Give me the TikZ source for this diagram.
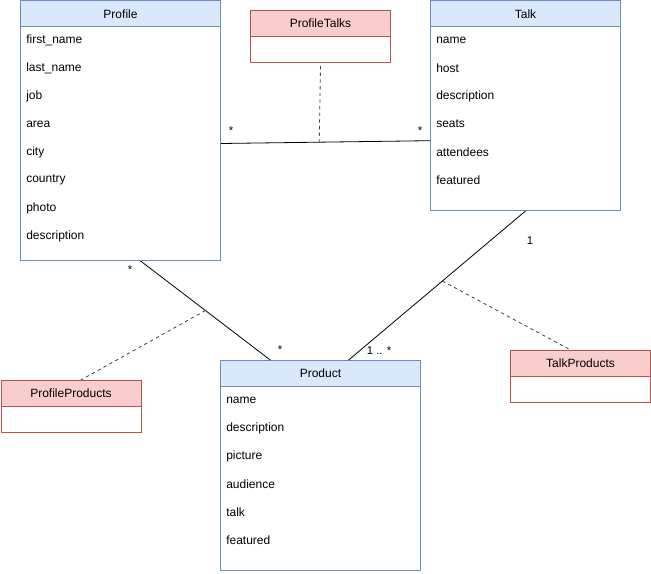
\documentclass[tikz,border=0pt]{standalone}
\usepackage{fontspec}
\setmainfont{Liberation Sans}
\usetikzlibrary{calc}
\definecolor{bfill}{HTML}{DAE8FC}
\definecolor{bline}{HTML}{6C8EBF}
\definecolor{rfill}{HTML}{F8CECC}
\definecolor{rline}{HTML}{B85450}
\begin{document}
\begin{tikzpicture}[x=0.75pt,y=-0.75pt,
  every node/.style={font=\fontsize{9}{11}\selectfont, inner sep=0pt},
  bhead/.style={draw=bline, fill=bfill, line width=0.75pt, anchor=north west, minimum height=19.5pt},
  bbody/.style={draw=bline, fill=white, line width=0.75pt, anchor=north west},
  rhead/.style={draw=rline, fill=rfill, line width=0.75pt, anchor=north west, minimum height=19.5pt, minimum width=105pt},
  rbody/.style={draw=rline, fill=white, line width=0.75pt, anchor=north west, minimum height=19.5pt, minimum width=105pt},
  attr/.style={anchor=west},
  assoc/.style={draw=black, line width=0.6pt},
  dashline/.style={draw=black!75, line width=0.6pt, dash pattern=on 2.5pt off 2.5pt},
  mult/.style={font=\fontsize{8.5}{10}\selectfont}]
\useasboundingbox (0,0) rectangle (651,574);
% Profile
\node[bbody, minimum width=150pt, minimum height=175.5pt] (profile) at (20,26) {};
\node[bhead, minimum width=150pt] (profileh) at (20,0.5) {Profile};
\node[attr] (p1) at (26,40) {first\_name};
\node[attr] (p2) at (26,68) {last\_name};
\node[attr] (p3) at (26,96) {job};
\node[attr] (p4) at (26,124) {area};
\node[attr] (p5) at (26,152) {city};
\node[attr] (p6) at (26,180) {country};
\node[attr] (p7) at (26,208) {photo};
\node[attr] (p8) at (26,236) {description};
% Talk
\node[bbody, minimum width=142.5pt, minimum height=138pt] (talk) at (430,26) {};
\node[bhead, minimum width=142.5pt] (talkh) at (430,0.5) {Talk};
\node[attr] (t1) at (436,40) {name};
\node[attr] (t2) at (436,68) {host};
\node[attr] (t3) at (436,96) {description};
\node[attr] (t4) at (436,124) {seats};
\node[attr] (t5) at (436,152) {attendees};
\node[attr] (t6) at (436,180) {featured};
% Product
\node[bbody, minimum width=150pt, minimum height=138pt] (product) at (220,386) {};
\node[bhead, minimum width=150pt] (producth) at (220,360) {Product};
\node[attr] (r1) at (226,400) {name};
\node[attr] (r2) at (226,428) {description};
\node[attr] (r3) at (226,456) {picture};
\node[attr] (r4) at (226,484) {audience};
\node[attr] (r5) at (226,512) {talk};
\node[attr] (r6) at (226,540) {featured};
% association classes
\node[rbody] (ptb) at (250,36) {};
\node[rhead] (pt) at (250,10) {ProfileTalks};
\node[rbody] (ppb) at (0.5,406) {};
\node[rhead] (pp) at (0.5,380) {ProfileProducts};
\node[rbody] (tpb) at (510,376) {};
\node[rhead] (tp) at (510,350) {TalkProducts};
% connectors
\coordinate (a1) at ($(profile.south west)!0.6!(profile.south east)$);
\coordinate (a2) at ($(producth.north west)!0.25!(producth.north east)$);
\coordinate (b1) at ($(talk.south west)!0.5!(talk.south east)$);
\coordinate (b2) at ($(producth.north west)!0.64!(producth.north east)$);
\coordinate (c1) at ($(profile.north east)!0.5!(profile.south east)$);
\coordinate (c2) at ($(talk.north west)!0.62!(talk.south west)$);
\draw[assoc] (c1) -- coordinate[pos=0.47] (cm) (c2);
\draw[assoc] (a1) -- coordinate[pos=0.5] (am) (a2);
\draw[assoc] (b1) -- coordinate[pos=0.47] (bm) (b2);
\draw[dashline] (ptb.south) ++(0,3) -- (cm);
\draw[dashline] (am) -- ($(pp.north west)!0.57!(pp.north east)$);
\draw[dashline] (bm) -- ($(tp.north west)!0.43!(tp.north east)$);
% multiplicities
\node[mult] (m1) at (231,131) {*};
\node[mult] (m2) at (420,131) {*};
\node[mult] (m3) at (130,270) {*};
\node[mult] (m4) at (280,350) {*};
\node[mult] (m5) at (530,241) {1};
\node[mult] (m6) at (379,351) {1 .. *};
\end{tikzpicture}
\end{document}
